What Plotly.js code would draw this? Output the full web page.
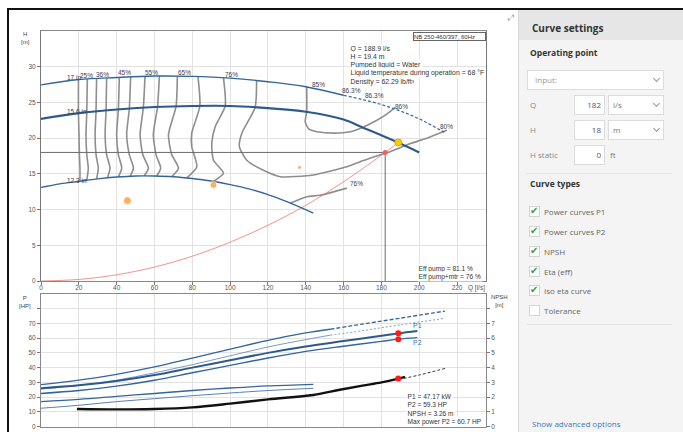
<!DOCTYPE html>
<html><head><meta charset="utf-8">
<script src="https://cdn.plot.ly/plotly-3.0.1.min.js"></script>
<style>
body{margin:0;width:683px;height:432px;overflow:hidden;background:#fff;position:relative;font-family:'Open Sans','Liberation Sans',Arial,sans-serif;}
#frame{position:absolute;left:7px;top:8px;width:676px;height:424px;border-left:2px solid #111;border-top:2px solid #111;box-sizing:border-box;}
#chart{position:absolute;left:0;top:0;width:518px;height:432px;}
#panel{position:absolute;left:518px;top:10px;width:165px;height:422px;background:#f4f4f4;border-left:1px solid #d6d6d6;box-sizing:border-box;}
#hdr{position:absolute;left:519px;top:10px;width:164px;height:30px;background:#e6e6e6;}
.t{position:absolute;white-space:nowrap;height:12px;line-height:12px;font-size:8px;color:#888;}
.b{font-weight:700;color:#333;font-size:8.5px;}
.box{position:absolute;background:#fff;border:1px solid #dcdcdc;box-sizing:border-box;}
.chev{position:absolute;width:4px;height:4px;border-right:1px solid #999;border-bottom:1px solid #999;transform:rotate(45deg);}
.sep{position:absolute;left:527px;width:145px;height:1px;background:#e2e2e2;}
.cb{position:absolute;left:529px;width:11px;height:11px;background:#fff;border:1px solid #d4d4d4;box-sizing:border-box;}
.ck{position:absolute;left:530px;font-family:'DejaVu Sans',sans-serif;font-size:10px;line-height:12px;height:12px;color:#3a9a35;}
.cl{left:544px;color:#666;}
</style></head>
<body>
<div id="frame"></div>
<div id="chart"></div>
<div class="t" style="left:508px;top:12px;font-family:'DejaVu Sans';font-size:8px;color:#999;">⤢</div>
<div id="panel"></div>
<div id="hdr"></div>
<div class="t b" style="left:532px;top:21px;font-size:10px;height:14px;line-height:14px;">Curve settings</div>
<div class="t b" style="left:530px;top:47px;">Operating point</div>
<div class="box" style="left:527px;top:70px;width:137px;height:20px;"></div>
<div class="t" style="left:535px;top:74px;color:#999;">Input:</div>
<div class="chev" style="left:654px;top:76px;"></div>
<div class="t" style="left:530px;top:99px;">Q</div>
<div class="box" style="left:574px;top:95px;width:31px;height:20px;"></div>
<div class="t" style="left:574px;top:99px;width:27px;text-align:right;color:#555;">182</div>
<div class="box" style="left:608px;top:95px;width:56px;height:20px;"></div>
<div class="t" style="left:613px;top:99px;color:#777;">l/s</div>
<div class="chev" style="left:654px;top:101px;"></div>
<div class="t" style="left:530px;top:124px;">H</div>
<div class="box" style="left:574px;top:120px;width:31px;height:20px;"></div>
<div class="t" style="left:574px;top:124px;width:27px;text-align:right;color:#555;">18</div>
<div class="box" style="left:608px;top:120px;width:56px;height:20px;"></div>
<div class="t" style="left:613px;top:124px;color:#777;">m</div>
<div class="chev" style="left:654px;top:126px;"></div>
<div class="t" style="left:530px;top:149px;">H static</div>
<div class="box" style="left:574px;top:145px;width:31px;height:20px;"></div>
<div class="t" style="left:574px;top:149px;width:27px;text-align:right;color:#555;">0</div>
<div class="t" style="left:610px;top:149px;color:#777;">ft</div>
<div class="sep" style="top:173px;"></div>
<div class="t b" style="left:530px;top:178px;">Curve types</div>
<div class="cb" style="top:206px;"></div><div class="ck" style="top:205px;">✔</div><div class="t cl" style="top:206px;">Power curves P1</div>
<div class="cb" style="top:226px;"></div><div class="ck" style="top:225px;">✔</div><div class="t cl" style="top:226px;">Power curves P2</div>
<div class="cb" style="top:246px;"></div><div class="ck" style="top:245px;">✔</div><div class="t cl" style="top:246px;">NPSH</div>
<div class="cb" style="top:266px;"></div><div class="ck" style="top:265px;">✔</div><div class="t cl" style="top:266px;">Eta (eff)</div>
<div class="cb" style="top:285px;"></div><div class="ck" style="top:284px;">✔</div><div class="t cl" style="top:285px;">Iso eta curve</div>
<div class="cb" style="top:305px;"></div><div class="t cl" style="top:305px;">Tolerance</div>
<div class="sep" style="top:324px;"></div>
<div class="t" style="left:532px;top:418px;color:#3a78c0;">Show advanced options</div>
<script>
// ---------- ticks ----------
const qTicks = [0,20,40,60,80,100,120,140,160,180,200,220];
const hTicks = [0,5,10,15,20,25,30];
const pTicks = [0,10,20,30,40,50,60,70,80];
const pTickText = ['0','10','20','30','40','50','60','70',''];
const npshTicks = [0,1,2,3,4,5,6,7,8];
const npshTickText = ['0','1','2','3','4','5','6','7',''];

// ---------- impeller QH curves ----------
const q17 = [0,20,40,60,80,100,120,140,160];
const h17 = [27.45,28.2,28.5,28.7,28.65,28.4,27.9,27.2,26.0];
const q17ext = [160,170,180,190,200,214];
const h17ext = [26.0,25.4,24.7,23.8,22.7,20.7];
const q156 = [0,20,40,60,80,100,120,140,160,170,180,190,200];
const h156 = [22.7,23.5,24.0,24.35,24.5,24.5,24.2,23.7,22.6,21.5,20.4,19.25,18.0];
const q123 = [0,10,20,30,40,50,60,70,80,90,100,110,120,130,144];
const h123 = [13.1,13.6,13.95,14.3,14.55,14.7,14.7,14.6,14.35,14.0,13.5,12.9,12.1,11.1,9.5];

// ---------- system curve ----------
const qSys = [0,20,40,60,80,100,120,140,160,182,188.9];
const hSys = [0,0.22,0.87,1.95,3.47,5.43,7.8,10.6,13.9,18.0,19.4];

// ---------- operating point input / duty ----------
const inputQ = 182;
const inputH = 18;
const dutyQ = [188.9];
const dutyH = [19.4];
const orangeQ = [45.7,91.2,136.7];
const orangeH = [11.25,13.45,15.9];

// ---------- iso efficiency curves ----------
const iso1Q = [19.8,19.8,20.1,20.3,20.6,20.6];
const iso1H = [28.2,23.5,20.5,17.7,15.8,13.97];
const iso2Q = [24.5,24.2,23.8,24.2,25.0,24.2];
const iso2H = [28.27,23.6,20.5,17.7,15.8,14.08];
const iso3Q = [29.4,29.1,28.6,29.1,30.3,29.4];
const iso3H = [28.34,23.73,20.5,17.7,15.8,14.28];
const iso4Q = [34.7,34.4,33.9,34.7,36.5,35.1];
const iso4H = [28.42,23.86,20.5,17.7,15.8,14.43];
const iso5Q = [41.4,40.9,40.0,40.9,42.7,40.9];
const iso5H = [28.5,24.02,20.5,17.7,15.8,14.57];
const iso6Q = [47.4,46.7,45.3,46.7,48.9,47.1];
const iso6H = [28.57,24.12,20.5,17.7,15.8,14.66];
const iso7Q = [55.0,54.1,52.4,53.8,56.8,54.5];
const iso7H = [28.65,24.25,20.5,17.7,15.8,14.7];
const iso8Q = [62.6,61.6,59.4,60.8,63.3,61.2];
const iso8H = [28.7,24.36,20.5,17.7,15.8,14.7];
const iso9Q = [72.1,71.4,67.4,69.1,72.7,69.1];
const iso9H = [28.68,24.44,20.5,17.7,15.8,14.6];
const iso10Q = [83.0,84.0,79.7,79.7,82.4,77.1];
const iso10H = [28.62,24.5,20.7,18.8,16.0,14.43];
const iso11Q = [96.5,97.4,92.1,90.3,91.2,96.5,91.2];
const iso11H = [28.45,24.5,21.6,19.3,16.9,15.1,13.95];
const iso80Q = [114,113.2,106.2,104.9,108.8,117.6,126.5,144,161.7,168.8,175,183,195,205,214.6];
const iso80H = [28.05,24.3,20.7,18.8,16.9,15.5,14.6,14.85,16.0,16.7,17.3,17.95,19.2,20.1,21.1];
const iso86Q = [140.5,140.5,139.7,141.5,146,155,163.5,170,177.6,183,187.3];
const iso86H = [27.2,23.7,22.3,21.3,20.9,20.7,20.9,21.5,22.5,23.4,24.3];
const iso76Q = [131.7,140.6,147.6,161.7];
const iso76H = [10.9,11.8,12.0,13.0];

// ---------- power curves (HP) ----------
const qP17 = [0,20,40,60,80,100,120,140,153];
const p1_17 = [28.5,31.5,35.5,40.5,46.5,52.5,58.5,63.5,66];
const p2_17 = [25.5,28,31.5,36.5,42,48,54,59,62];
const qP17ext = [153,170,190,213.6];
const p1_17ext = [66,69.5,73.5,78.3];
const p2_17ext = [62,65,69,73.4];
const qP156 = [0,20,40,60,80,100,120,140,160,180,189,199];
const p1_156 = [26,28,31,35,40,45,50,54.3,58,61.6,63.2,64.8];
const p2_156 = [22.5,24.5,27.5,31.5,36.5,41.5,46.5,51,54.5,57.8,59.3,60.3];
const qP123 = [0,20,40,60,80,100,120,144];
const p1_123 = [17,18.5,20.5,22.5,24.5,26.2,27.6,28.7];
const p2_123 = [12.5,14.5,17,19,21,22.8,24.5,26];
const dutyP1 = [63.2];
const dutyP2 = [59.3];

// ---------- NPSH (m) ----------
const qNpsh = [19,40,60,80,100,120,144,158,170,180,189,192.5];
const npsh = [1.2,1.17,1.2,1.31,1.56,1.85,2.15,2.5,2.78,3.0,3.26,3.38];
const qNpshExt = [189,200,213.6];
const npshExt = [3.2,3.5,3.95];
const dutyNpsh = [3.26];

// ---------- texts ----------
const curveLabels = ['17 in','15.6 in','12.3 in'];
const etaLabels = ['25%','36%','45%','55%','65%','76%','85%','86.3%','86.3%','86%','80%','76%'];
const infoLines = ['Q = 188.9 l/s','H = 19.4 m','Pumped liquid = Water','Liquid temperature during operation = 68 °F','Density = 62.29 lb/ft³'];
const effLines = ['Eff pump = 81.1 %','Eff pump+mtr = 76 %'];
const powerLines = ['P1 = 47.17 kW','P2 = 59.3 HP','NPSH = 3.26 m','Max power P2 = 60.7 HP'];
const pumpName = 'NB 250-460/397, 60Hz';

// ================= build =================
const W = 518, Hh = 432;
const px = v => v / W, py = v => 1 - v / Hh;
const BLUE = '#33659c', GRAY = '#8e8e8e', FONT = 'Liberation Sans, Arial, sans-serif';
const traces = [];
const L = (x, y, line, xa, ya, extra) => traces.push(Object.assign({x, y, type:'scatter', mode:'lines', line, hoverinfo:'skip', xaxis:xa, yaxis:ya}, extra || {}));

const isoSets = [[iso1Q,iso1H],[iso2Q,iso2H],[iso3Q,iso3H],[iso4Q,iso4H],[iso5Q,iso5H],[iso6Q,iso6H],
  [iso7Q,iso7H],[iso8Q,iso8H],[iso9Q,iso9H],[iso10Q,iso10H],[iso11Q,iso11H],[iso80Q,iso80H],[iso86Q,iso86H],[iso76Q,iso76H]];
isoSets.forEach(([q,h]) => L(q, h, {color:GRAY, width:1.6, shape:'spline', smoothing:0.6}, 'x', 'y'));

// input lines
L([0, inputQ, inputQ], [inputH, inputH, 0], {color:'#6a6a6a', width:1}, 'x', 'y');
// system curve
L(qSys, hSys, {color:'rgba(240,110,110,0.75)', width:1, shape:'spline'}, 'x', 'y');
// QH curves
L(q17, h17, {color:BLUE, width:1.4, shape:'spline'}, 'x', 'y');
L(q17ext, h17ext, {color:BLUE, width:1.2, dash:'3px,2px', shape:'spline'}, 'x', 'y');
L(q156, h156, {color:'#2c5a8e', width:2.1, shape:'spline'}, 'x', 'y');
L(q123, h123, {color:BLUE, width:1.4, shape:'spline'}, 'x', 'y');
// markers top
traces.push({x:orangeQ, y:orangeH, type:'scatter', mode:'markers', marker:{color:'#ff8c1a', size:[8,7,4]}, xaxis:'x', yaxis:'y', hoverinfo:'skip'});
traces.push({x:[inputQ], y:[inputH], type:'scatter', mode:'markers', marker:{color:'#f06060', size:5}, xaxis:'x', yaxis:'y', hoverinfo:'skip'});
traces.push({x:dutyQ, y:dutyH, type:'scatter', mode:'markers', marker:{color:'#ffcc00', size:7, line:{color:'#f0a000', width:1}}, xaxis:'x', yaxis:'y', hoverinfo:'skip'});

// power curves
L(qP17, p1_17, {color:BLUE, width:1.3, shape:'spline'}, 'x2', 'y2');
L(qP17ext, p1_17ext, {color:BLUE, width:1.3, dash:'4px,2px', shape:'spline'}, 'x2', 'y2');
L(qP17, p2_17, {color:'#6f90bb', width:0.9, shape:'spline'}, 'x2', 'y2');
L(qP17ext, p2_17ext, {color:'#6f90bb', width:0.9, dash:'2px,2px', shape:'spline'}, 'x2', 'y2');
L(qP156, p1_156, {color:'#2c5a8e', width:2, shape:'spline'}, 'x2', 'y2');
L(qP156, p2_156, {color:BLUE, width:1.4, shape:'spline'}, 'x2', 'y2');
L(qP123, p1_123, {color:BLUE, width:1.3, shape:'spline'}, 'x2', 'y2');
L(qP123, p2_123, {color:'#5a80b0', width:1, shape:'spline'}, 'x2', 'y2');
// NPSH
L(qNpsh, npsh, {color:'#111', width:2.4, shape:'spline'}, 'x2', 'y3');
L(qNpshExt, npshExt, {color:'#333', width:1, dash:'3px,2px', shape:'spline'}, 'x2', 'y3');
traces.push({x:[dutyQ[0], dutyQ[0]], y:[dutyP1[0], dutyP2[0]], type:'scatter', mode:'markers', marker:{color:'#ff1a1a', size:6}, xaxis:'x2', yaxis:'y2', hoverinfo:'skip'});
traces.push({x:dutyQ, y:dutyNpsh, type:'scatter', mode:'markers', marker:{color:'#ff1a1a', size:6}, xaxis:'x2', yaxis:'y3', hoverinfo:'skip'});

// annotations
const lblFont = {family:FONT, size:6.5, color:'#3d3d4d'};
const ann = [];
const A = (o) => ann.push(Object.assign({showarrow:false, font:lblFont, xanchor:'center', yanchor:'middle'}, o));
// curve diameter labels
A({x:12.7, y:28.56, xref:'x', yref:'y', xanchor:'left', text:curveLabels[0]});
A({x:12.7, y:23.7, xref:'x', yref:'y', xanchor:'left', text:curveLabels[1]});
A({x:12.7, y:14.1, xref:'x', yref:'y', xanchor:'left', text:curveLabels[2]});
// eta labels
const etaPos = [[23.96,28.84],[32.5,28.98],[44.4,29.16],[58.5,29.26],[76.1,29.26],[100.8,28.98],[146.6,27.58],[164.3,26.65],[176.3,25.95],[190.7,24.5],[214.5,21.7],[166.6,13.68]];
etaPos.forEach((p,i) => A({x:p[0], y:p[1], xref:'x', yref:'y', text:etaLabels[i]}));
// info box lines
const infoY = [48, 56.3, 64.6, 72.8, 81];
infoLines.forEach((s,i) => A({x:px(349), y:py(infoY[i]), xref:'paper', yref:'paper', xanchor:'left', bgcolor:'#fff', borderpad:0.6,
   text:s, font:{family:FONT, size:6.9, color:'#333'}}));
A({x:px(449), y:py(36.2), xref:'paper', yref:'paper', align:'left', bgcolor:'#fff',
   bordercolor:'#666', borderwidth:1, borderpad:0, width:71, height:7, text:pumpName, font:{family:FONT, size:6, color:'#333'}});
const effY = [268.3, 276.7];
effLines.forEach((s,i) => A({x:px(416.5), y:py(effY[i]), xref:'paper', yref:'paper', xanchor:'left', bgcolor:'#fff', borderpad:0.6,
   text:s, font:{family:FONT, size:6.6, color:'#333'}}));
const powY = [396, 404.3, 412.6, 421];
powerLines.forEach((s,i) => A({x:px(405.5), y:py(powY[i]), xref:'paper', yref:'paper', xanchor:'left', bgcolor:'#fff', borderpad:0.6,
   text:s, font:{family:FONT, size:6.6, color:'#333'}}));
// axis titles
A({x:px(25.7), y:py(37.8), xref:'paper', yref:'paper', text:'H<br>[m]', font:{family:FONT, size:6, color:'#444'}});
A({x:px(25), y:py(302), xref:'paper', yref:'paper', text:'P<br>[HP]', font:{family:FONT, size:6, color:'#444'}});
A({x:px(499), y:py(301), xref:'paper', yref:'paper', text:'NPSH<br>[m]', font:{family:FONT, size:6, color:'#444'}});
A({x:px(476), y:py(288), xref:'paper', yref:'paper', text:'Q [l/s]', font:{family:FONT, size:6.5, color:'#555'}});
// P1 / P2 labels
A({x:199, y:68.2, xref:'x2', yref:'y2', text:'P1', font:{family:FONT, size:7, color:'#3d70aa'}});
A({x:199, y:57.1, xref:'x2', yref:'y2', text:'P2', font:{family:FONT, size:7, color:'#3d70aa'}});

const tickFont = {family:FONT, size:6.5, color:'#555'};
const xDom = [41/W, 486/W];
const baseAx = {ticks:'outside', ticklen:3, tickcolor:'#777', showline:true, linecolor:'#888', linewidth:1,
  gridcolor:'#e2e2e2', gridwidth:1, zeroline:false, tickfont:tickFont, fixedrange:true};
const layout = {
  width:W, height:Hh, margin:{l:0, r:0, t:0, b:0},
  paper_bgcolor:'rgba(0,0,0,0)', plot_bgcolor:'#fff', showlegend:false,
  font:{family:FONT, size:6.5, color:'#555'},
  xaxis:Object.assign({}, baseAx, {domain:xDom, range:[0,235.3], anchor:'y', tickmode:'array', tickvals:qTicks, mirror:true, ticklabelstandoff:-3}),
  yaxis:Object.assign({}, baseAx, {domain:[py(281), py(31)], range:[0,35], anchor:'x', tickmode:'array', tickvals:hTicks, mirror:true, linecolor:'#777'}),
  xaxis2:Object.assign({}, baseAx, {domain:xDom, range:[0,235.3], anchor:'y2', tickmode:'array', tickvals:qTicks, showticklabels:false, ticks:'', mirror:true}),
  yaxis2:Object.assign({}, baseAx, {domain:[py(426.7), py(293.8)], range:[0,90], anchor:'x2', tickmode:'array', tickvals:pTicks, ticktext:pTickText}),
  yaxis3:Object.assign({}, baseAx, {overlaying:'y2', side:'right', anchor:'x2', range:[0,9], tickmode:'array', tickvals:npshTicks, ticktext:npshTickText, showgrid:false}),
  annotations:ann
};
Plotly.newPlot('chart', traces, layout, {displayModeBar:false, staticPlot:true});
</script>
</body></html>
